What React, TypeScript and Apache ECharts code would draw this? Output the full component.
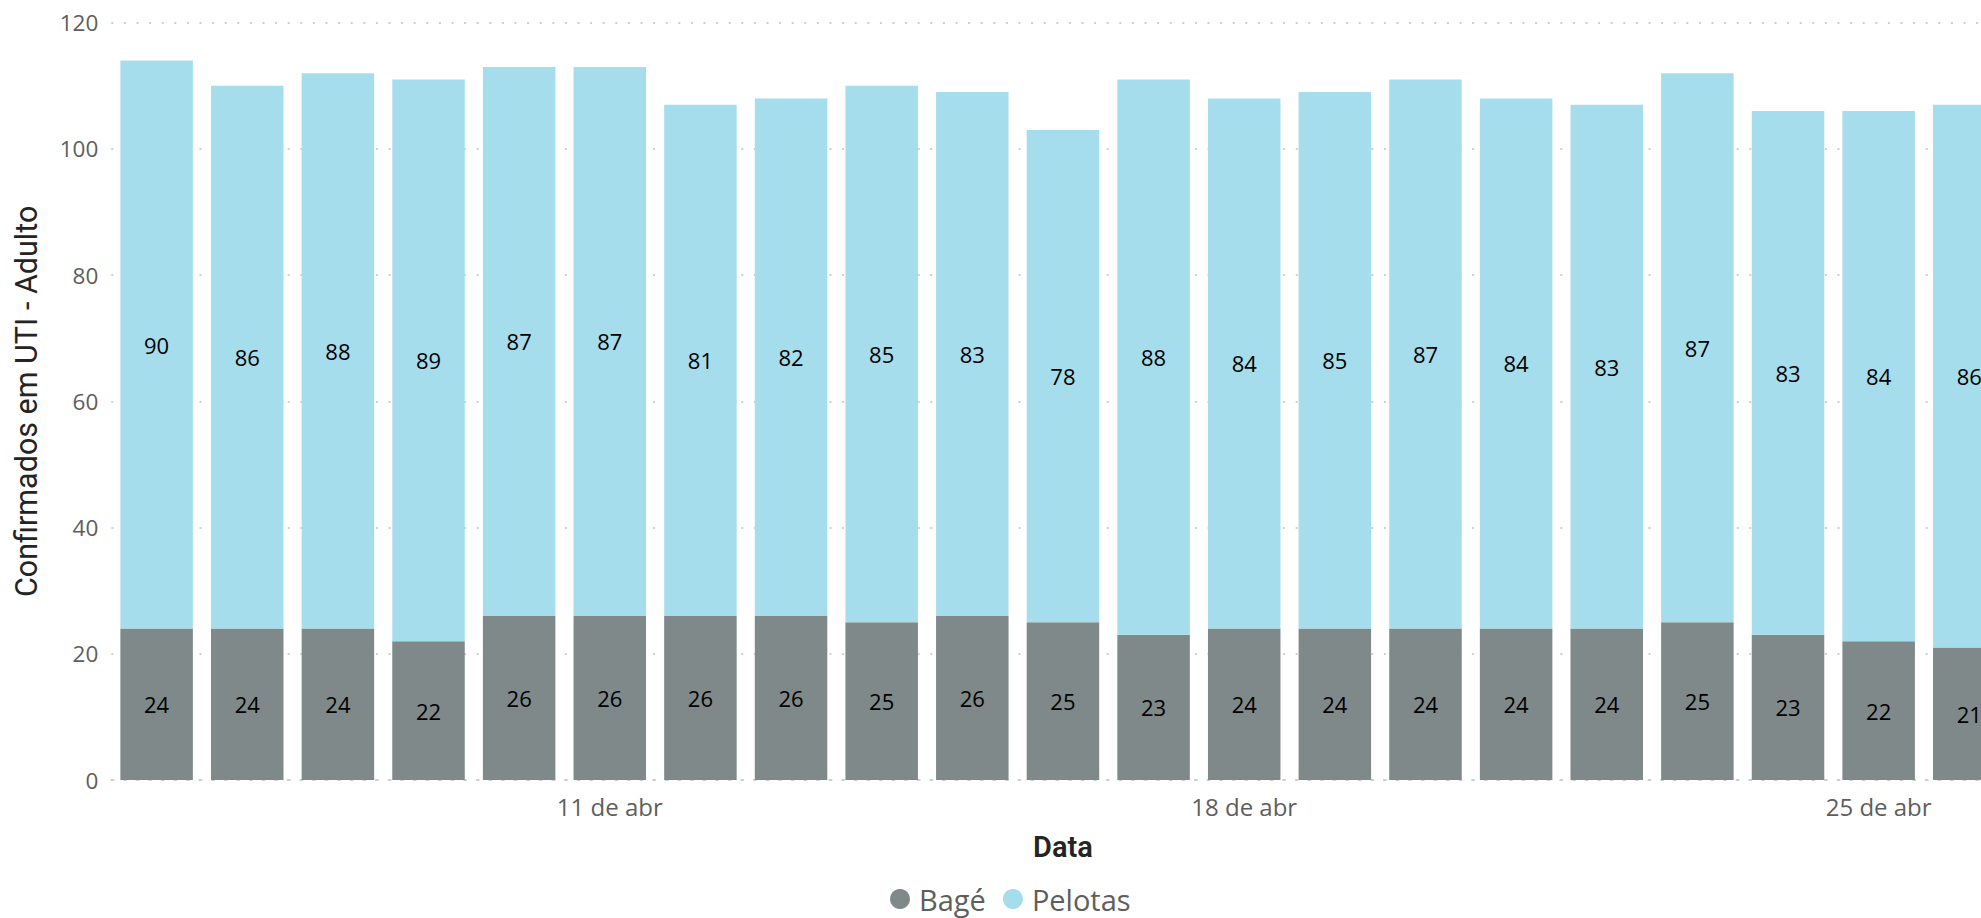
import React, { useEffect, useRef } from "react";
import * as echarts from "echarts";

const dates = [
  "6 de abr", "7 de abr", "8 de abr", "9 de abr", "10 de abr", "11 de abr", "12 de abr",
  "13 de abr", "14 de abr", "15 de abr", "16 de abr", "17 de abr", "18 de abr", "19 de abr",
  "20 de abr", "21 de abr", "22 de abr", "23 de abr", "24 de abr", "25 de abr", "26 de abr",
];
const bage = [24, 24, 24, 22, 26, 26, 26, 26, 25, 26, 25, 23, 24, 24, 24, 24, 24, 25, 23, 22, 21];
const pelotas = [90, 86, 88, 89, 87, 87, 81, 82, 85, 83, 78, 88, 84, 85, 87, 84, 83, 87, 83, 84, 86];
const shownLabelIdx = [5, 12, 19];

const GRAY = "#7F898A";
const BLUE = "#A6DDED";
const LABEL_FONT = "'Open Sans', 'Noto Sans', sans-serif";
const TITLE_FONT = "Roboto, 'Noto Sans', sans-serif";

export default function App() {
  const ref = useRef<HTMLDivElement>(null);
  useEffect(() => {
    if (!ref.current) return;
    const chart = echarts.init(ref.current, null, { renderer: "svg" });
    const dotted = { color: "#CFCFCF", width: 2, type: [2, 10.6] as number[] };
    chart.setOption({
      animation: false,
      grid: { left: 111.3, right: 0.4, top: 22.7, bottom: 138, containLabel: false },
      legend: {
        top: 884,
        left: 890,
        padding: 0,
        itemWidth: 20,
        itemHeight: 20,
        itemGap: 17,
        icon: "circle",
        textStyle: {
          fontFamily: LABEL_FONT,
          fontSize: 29,
          lineHeight: 30,
          color: "#605E5C",
          padding: [0, 0, 0, 4],
        },
        data: ["Bagé", "Pelotas"],
      },
      xAxis: {
        type: "category",
        data: dates,
        name: "Data",
        nameLocation: "middle",
        nameGap: 52,
        nameTextStyle: { fontFamily: TITLE_FONT, fontSize: 29, fontWeight: 600, color: "#252423" },
        axisTick: { show: false },
        axisLine: { show: true, lineStyle: dotted },
        axisLabel: {
          interval: (idx: number) => shownLabelIdx.includes(idx),
          fontFamily: LABEL_FONT,
          fontSize: 24,
          color: "#605E5C",
          margin: 14,
        },
      },
      yAxis: {
        type: "value",
        min: 0,
        max: 120,
        interval: 20,
        name: "Confirmados em UTI - Adulto",
        nameLocation: "middle",
        nameGap: 69,
        nameTextStyle: { fontFamily: TITLE_FONT, fontSize: 30.5, color: "#252423" },
        axisLine: { show: false },
        axisTick: { show: false },
        axisLabel: { fontFamily: LABEL_FONT, fontSize: 22.5, color: "#605E5C", margin: 13 },
        splitLine: { show: true, lineStyle: dotted },
      },
      series: [
        {
          name: "Bagé",
          type: "bar",
          stack: "total",
          data: bage,
          barCategoryGap: "20%",
          itemStyle: { color: GRAY },
          label: { show: true, position: "inside", fontFamily: LABEL_FONT, fontSize: 22, color: "#000" },
        },
        {
          name: "Pelotas",
          type: "bar",
          stack: "total",
          data: pelotas,
          barCategoryGap: "20%",
          itemStyle: { color: BLUE },
          label: { show: true, position: "inside", fontFamily: LABEL_FONT, fontSize: 22, color: "#000" },
        },
      ],
    });
    return () => chart.dispose();
  }, []);
  return (
    <div
      style={{ position: "fixed", left: 0, top: 0, width: "1981px", height: "918px", overflow: "hidden", background: "#fff" }}
    >
      <div ref={ref} style={{ width: "2015px", height: "918px" }} />
    </div>
  );
}
